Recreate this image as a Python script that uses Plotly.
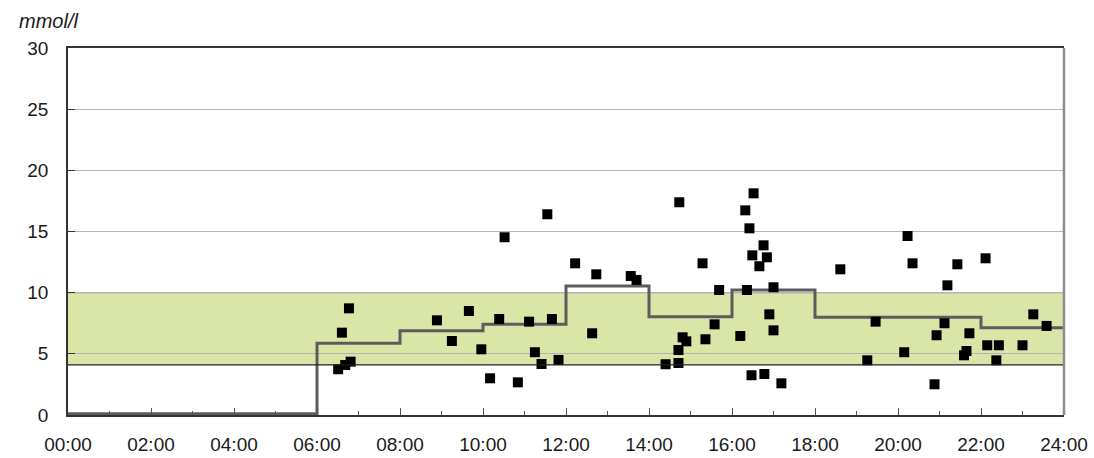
import plotly.graph_objects as go

# Glucose readings: time of day (hours) and value (mmol/l)
reading_hours = [6.51, 6.68, 6.81, 6.60, 6.77, 8.89, 9.25, 9.66, 9.96, 10.17,
                 10.39, 10.52, 10.84, 11.11, 11.25, 11.41, 11.55, 11.66, 11.82, 12.22,
                 12.63, 12.73, 13.56, 13.70, 14.40, 14.71, 14.71, 14.73, 14.81, 14.90,
                 15.29, 15.36, 15.58, 15.69, 16.20, 16.32, 16.36, 16.42, 16.47, 16.49,
                 16.52, 16.66, 16.76, 16.78, 16.84, 16.90, 17.00, 17.00, 17.19, 18.61,
                 19.26, 19.46, 20.15, 20.23, 20.35, 20.88, 20.93, 21.12, 21.19, 21.43,
                 21.59, 21.65, 21.72, 22.11, 22.15, 22.37, 22.43, 23.00, 23.26, 23.58]
reading_values = [3.74, 4.09, 4.36, 6.73, 8.72, 7.74, 6.05, 8.50, 5.37, 3.00,
                  7.85, 14.53, 2.67, 7.63, 5.13, 4.17, 16.41, 7.85, 4.50, 12.40,
                  6.68, 11.50, 11.36, 11.04, 4.15, 4.25, 5.31, 17.39, 6.35, 6.02,
                  12.40, 6.19, 7.41, 10.22, 6.46, 16.73, 10.22, 15.26, 3.25, 13.05,
                  18.12, 12.16, 13.87, 3.35, 12.89, 8.23, 10.44, 6.92, 2.59, 11.91,
                  4.47, 7.63, 5.13, 14.63, 12.40, 2.51, 6.52, 7.50, 10.60, 12.32,
                  4.88, 5.23, 6.68, 12.81, 5.70, 4.47, 5.70, 5.70, 8.23, 7.28]

# Step profile (period start hour -> mean value)
step_hours = [0, 6, 8, 10, 12, 14, 16, 18, 22, 24]
step_values = [0.1, 5.86, 6.89, 7.41, 10.55, 8.04, 10.22, 8.0, 7.14, 7.14]

# Target range band
target_low = 4.1
target_high = 10.0

x_tick_vals = list(range(0, 25, 2))
x_tick_text = ["00:00", "02:00", "04:00", "06:00", "08:00", "10:00", "12:00",
               "14:00", "16:00", "18:00", "20:00", "22:00", "24:00"]
y_tick_vals = [0, 5, 10, 15, 20, 25, 30]

FONT = "Liberation Sans, Arial, sans-serif"
TXT = "#1a1a1a"

fig = go.Figure()

fig.add_trace(go.Scatter(
    x=step_hours, y=step_values, mode="lines",
    line=dict(color="#5c5c5c", width=3, shape="hv"),
    hoverinfo="skip", showlegend=False,
))
fig.add_trace(go.Scatter(
    x=reading_hours, y=reading_values, mode="markers",
    marker=dict(symbol="square", size=10, color="#000000", line=dict(width=0)),
    showlegend=False,
))

# target band
fig.add_shape(type="rect", xref="x", yref="y", x0=0, x1=24,
              y0=target_low, y1=target_high, fillcolor="#d9e6a8",
              line=dict(width=0), layer="below")
fig.add_shape(type="line", xref="x", yref="y", x0=0, x1=24,
              y0=target_low, y1=target_low, line=dict(color="#222222", width=1.2))
fig.add_shape(type="line", xref="x", yref="y", x0=0, x1=24,
              y0=target_high, y1=target_high, line=dict(color="#8a8a8a", width=1.2),
              layer="below")
# right border
fig.add_shape(type="line", xref="paper", yref="paper", x0=1, x1=1, y0=0, y1=1,
              line=dict(color="#8c8c8c", width=2.5))

fig.add_annotation(text="<i>mmol/l</i>", xref="paper", yref="paper",
                   x=-51 / 996, y=1, xanchor="left", yanchor="bottom", yshift=14,
                   showarrow=False, font=dict(family=FONT, size=20, color=TXT))

fig.update_layout(
    width=1094, height=458,
    margin=dict(l=68, r=29.5, t=48, b=43),
    paper_bgcolor="white", plot_bgcolor="white",
    font=dict(family=FONT, size=19, color=TXT),
    xaxis=dict(
        range=[0, 24], tickvals=x_tick_vals, ticktext=x_tick_text,
        showgrid=False, zeroline=False, automargin=False,
        showline=True, linecolor="#333333", linewidth=1.5, mirror=True,
        ticks="inside", ticklen=7, tickcolor="#555555", tickwidth=1.2,
        minor=dict(dtick=1, tick0=0, ticks="inside", ticklen=4,
                   tickcolor="#555555", tickwidth=1.2, showgrid=False),
        ticklabelstandoff=11,
        tickfont=dict(family=FONT, size=19, color=TXT),
    ),
    yaxis=dict(
        range=[0, 30], tickvals=y_tick_vals,
        showgrid=True, gridcolor="#b4b4b4", gridwidth=1,
        zeroline=False, automargin=False,
        showline=True, linecolor="#333333", linewidth=1.5,
        ticks="inside", ticklen=7, tickcolor="#333333", tickwidth=1.2,
        ticklabelstandoff=14,
        tickfont=dict(family=FONT, size=19, color=TXT),
    ),
)

fig.write_html("out.html")
